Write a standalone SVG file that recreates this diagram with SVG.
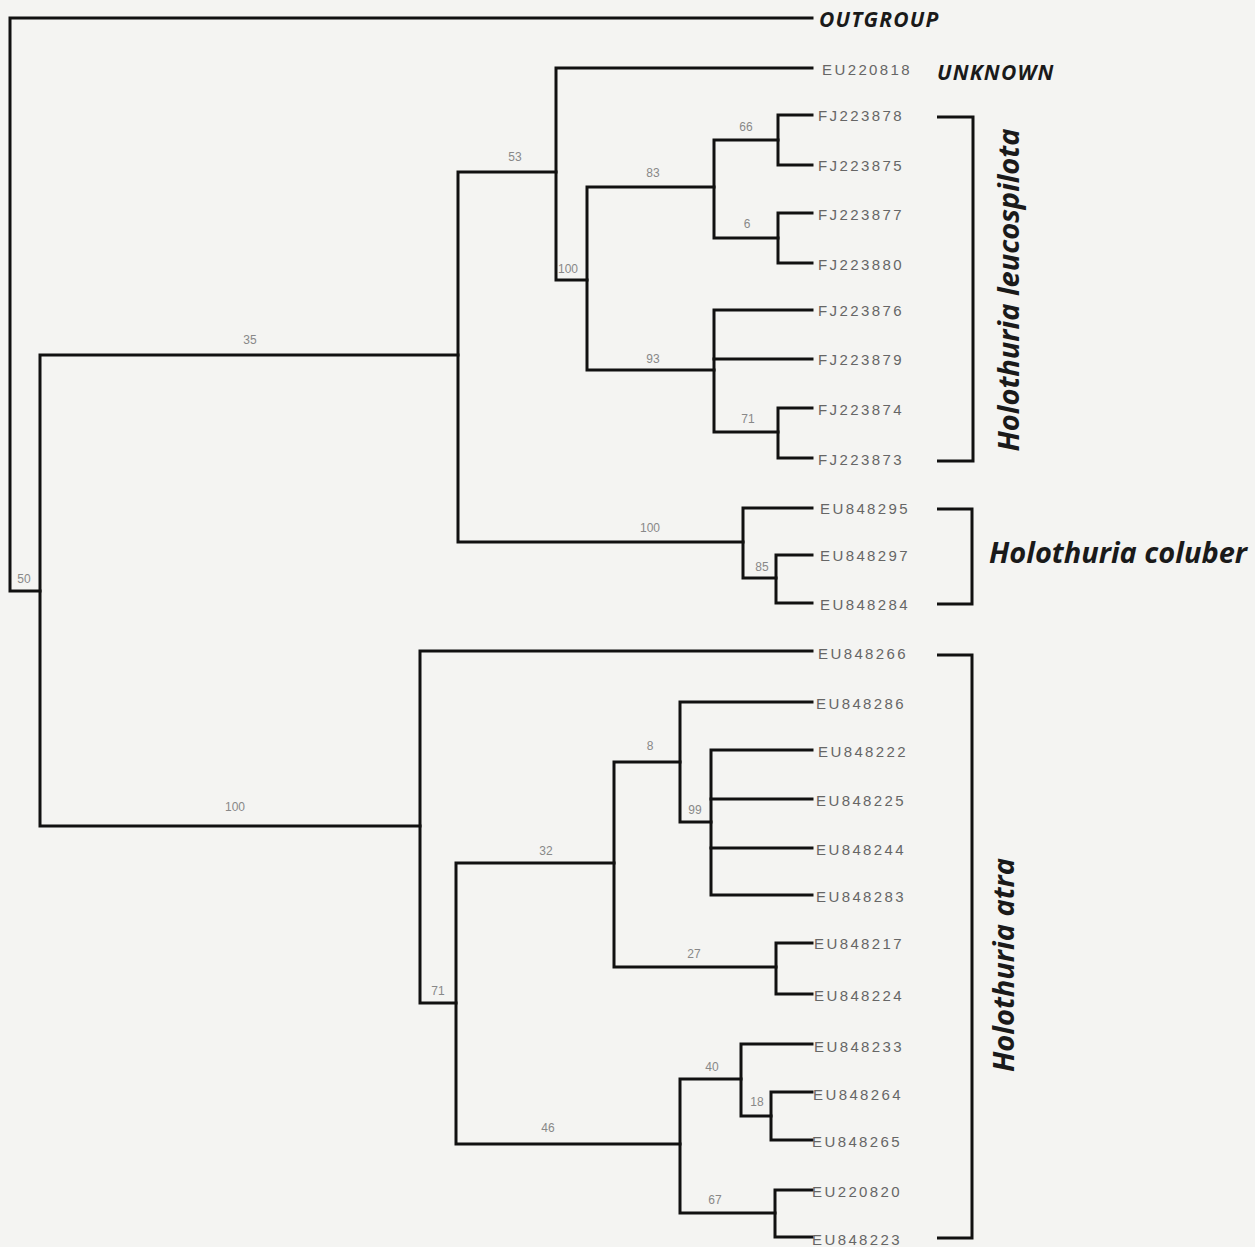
<svg xmlns="http://www.w3.org/2000/svg" width="1255" height="1247" viewBox="0 0 1255 1247">
<style>
.br{fill:none;stroke:#111;stroke-width:3;stroke-linecap:square;stroke-linejoin:miter}
.bk{fill:none;stroke:#111;stroke-width:3}
.lf{font-family:"Liberation Sans",Arial,sans-serif;font-size:15px;fill:#666;letter-spacing:2.4px;dominant-baseline:central}
.bs{font-family:"Liberation Sans",Arial,sans-serif;font-size:12px;fill:#888;text-anchor:middle}
.sp{font-family:"Open Sans","Liberation Sans",sans-serif;font-weight:bold;font-style:italic;fill:#1a1a1a}
</style>
<rect width="1255" height="1247" fill="#f4f4f2"/>
<g id="connectors">
<path class="br" d="M812,18 H10 V591 H40"/>
<path class="br" d="M458,355 H40 V826 H420"/>
<path class="br" d="M556,172 H458 V542 H743"/>
<path class="br" d="M812,68 H556 V280 H587"/>
<path class="br" d="M714,187 H587 V370 H714"/>
<path class="br" d="M778,140 H714 V238 H778"/>
<path class="br" d="M812,115 H778 V165 H812"/>
<path class="br" d="M812,213 H778 V263 H812"/>
<path class="br" d="M812,310 H714 V432 H778"/>
<path class="br" d="M714,359 H812"/>
<path class="br" d="M812,408 H778 V458 H812"/>
<path class="br" d="M812,508 H743 V578 H776"/>
<path class="br" d="M812,555 H776 V603 H812"/>
<path class="br" d="M812,651 H420 V1003 H456"/>
<path class="br" d="M614,863 H456 V1144 H680"/>
<path class="br" d="M680,762 H614 V967 H776"/>
<path class="br" d="M812,702 H680 V822 H711"/>
<path class="br" d="M812,750 H711 V895 H812"/>
<path class="br" d="M711,799 H812"/>
<path class="br" d="M711,848 H812"/>
<path class="br" d="M812,943 H776 V994 H812"/>
<path class="br" d="M741,1079 H680 V1213 H775"/>
<path class="br" d="M812,1044 H741 V1116 H771"/>
<path class="br" d="M812,1092 H771 V1140 H812"/>
<path class="br" d="M812,1190 H775 V1237 H812"/>
</g>
<g id="support">
<text class="bs" x="24" y="583">50</text>
<text class="bs" x="250" y="344">35</text>
<text class="bs" x="235" y="811">100</text>
<text class="bs" x="515" y="161">53</text>
<text class="bs" x="650" y="532">100</text>
<text class="bs" x="568" y="273">100</text>
<text class="bs" x="653" y="177">83</text>
<text class="bs" x="653" y="363">93</text>
<text class="bs" x="746" y="131">66</text>
<text class="bs" x="747" y="228">6</text>
<text class="bs" x="748" y="423">71</text>
<text class="bs" x="762" y="571">85</text>
<text class="bs" x="438" y="995">71</text>
<text class="bs" x="546" y="855">32</text>
<text class="bs" x="548" y="1132">46</text>
<text class="bs" x="650" y="750">8</text>
<text class="bs" x="694" y="958">27</text>
<text class="bs" x="695" y="814">99</text>
<text class="bs" x="712" y="1071">40</text>
<text class="bs" x="715" y="1204">67</text>
<text class="bs" x="757" y="1106">18</text>
</g>
<g id="leaves">
<text class="sp" x="819" y="27" font-size="21" letter-spacing="1.2">OUTGROUP</text>
<text class="lf" x="822" y="69">EU220818</text>
<text class="sp" x="937" y="80" font-size="21" letter-spacing="1.2">UNKNOWN</text>
<text class="lf" x="818" y="115">FJ223878</text>
<text class="lf" x="818" y="165">FJ223875</text>
<text class="lf" x="818" y="214">FJ223877</text>
<text class="lf" x="818" y="264">FJ223880</text>
<text class="lf" x="818" y="310">FJ223876</text>
<text class="lf" x="818" y="359">FJ223879</text>
<text class="lf" x="818" y="409">FJ223874</text>
<text class="lf" x="818" y="459">FJ223873</text>
<text class="lf" x="820" y="508">EU848295</text>
<text class="lf" x="820" y="555">EU848297</text>
<text class="lf" x="820" y="604">EU848284</text>
<text class="lf" x="818" y="653">EU848266</text>
<text class="lf" x="816" y="703">EU848286</text>
<text class="lf" x="818" y="751">EU848222</text>
<text class="lf" x="816" y="800">EU848225</text>
<text class="lf" x="816" y="849">EU848244</text>
<text class="lf" x="816" y="896">EU848283</text>
<text class="lf" x="814" y="943">EU848217</text>
<text class="lf" x="814" y="995">EU848224</text>
<text class="lf" x="814" y="1046">EU848233</text>
<text class="lf" x="813" y="1094">EU848264</text>
<text class="lf" x="812" y="1141">EU848265</text>
<text class="lf" x="812" y="1191">EU220820</text>
<text class="lf" x="812" y="1239">EU848223</text>
</g>
<g id="clade-leucospilota">
<path class="bk" d="M937,117 H973 V461 H937"/>
<text class="sp" font-size="29" text-anchor="middle" transform="translate(1019,290) rotate(-90)">Holothuria leucospilota</text>
</g>
<g id="clade-coluber">
<path class="bk" d="M937,509 H972 V604 H937"/>
<text class="sp" font-size="29" x="989" y="563">Holothuria coluber</text>
</g>
<g id="clade-atra">
<path class="bk" d="M937,655 H972 V1238 H937"/>
<text class="sp" font-size="29" text-anchor="middle" transform="translate(1014,965) rotate(-90)">Holothuria atra</text>
</g>
</svg>
